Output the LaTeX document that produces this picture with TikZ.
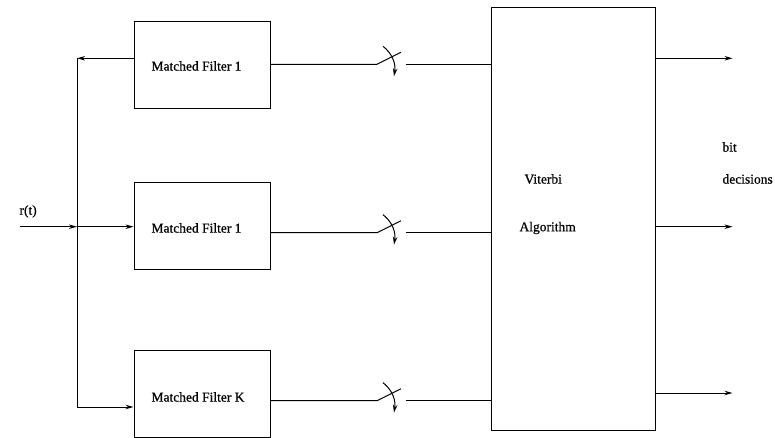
\documentclass[tikz,border=0pt]{standalone}
\usepackage{fontspec}
\setmainfont{Liberation Serif}[FakeBold=0.6]
\usetikzlibrary{arrows.meta,calc}
\begin{document}
\begin{tikzpicture}[x=1pt,y=-1pt,
  line width=1pt,
  tip/.style={-{Stealth[length=8pt,width=4.5pt]}},
  filterbox/.style={draw,minimum width=136pt,minimum height=87pt,inner sep=0pt},
  lbl/.style={font=\fontsize{13.5}{15}\selectfont,inner sep=0pt,anchor=west}]
\useasboundingbox (0,0) rectangle (775,438);

% matched filters and the Viterbi block
\node[filterbox] (mf1) at (202,64.7) {};
\node[filterbox] (mf2) at (202,226) {};
\node[filterbox] (mfk) at (202,394) {};
\node[lbl] (t1) at (151,66) {Matched Filter 1};
\node[lbl] (t2) at (151,228) {Matched Filter 1};
\node[lbl] (tk) at (151,397) {Matched Filter K};
\node[draw,minimum width=164pt,minimum height=422.7pt,inner sep=0pt] (va) at (573,218.7) {};
\node[lbl] (vt1) at (524,179) {Viterbi};
\node[lbl] (vt2) at (519,228) {Algorithm};

% input and distribution bus
\node[lbl,anchor=south west] (rt) at (19,218) {r(t)};
\coordinate (in) at (20,226.7);
\coordinate (bt) at (77,58.3);
\coordinate (bm) at (77,226.7);
\coordinate (bb) at (77,407);
\draw (bt) -- (bb);
\draw[tip] (in) -- (bm);
\draw[tip] (bm) -- (mf2.west |- bm);
\draw[tip] (mf1.west |- bt) -- (bt);
\draw[tip] (bb) -- (mfk.west |- bb);

% sampling switches
\foreach \f/\y in {mf1/64.3, mf2/232.7, mfk/400.7}{
  \coordinate (s) at (377,\y);
  \draw (\f.east |- s) -- (s) -- ++(24,-12);
  \draw[tip] ($(s)+(6,-18)$) .. controls ($(s)+(15,-11)$) and ($(s)+(19,-1)$) .. ($(s)+(17,12)$);
  \draw ($(s)+(29,0)$) -- (va.west |- s);
}

% outputs
\foreach \y in {58.3, 226.7, 393}{
  \coordinate (o) at (655,\y);
  \draw[tip] (va.east |- o) -- ++(77,0);
}
\node[lbl] (bit) at (722,147) {bit};
\node[lbl] (dec) at (722,179) {decisions};
\end{tikzpicture}
\end{document}
